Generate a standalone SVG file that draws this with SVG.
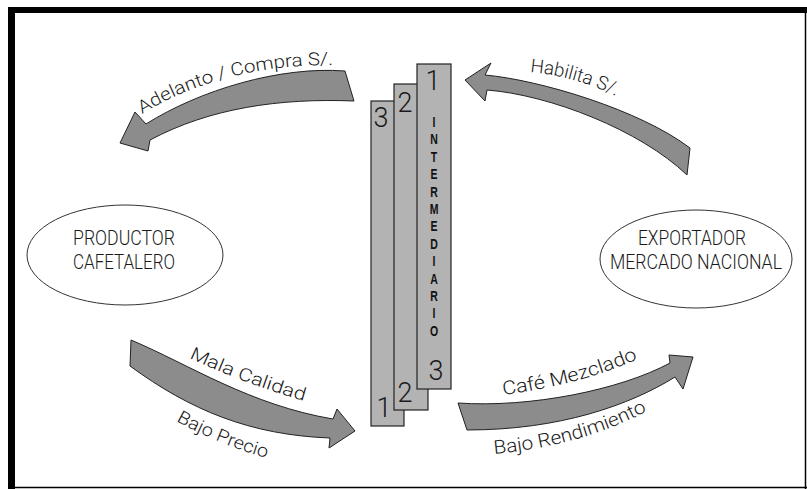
<svg xmlns="http://www.w3.org/2000/svg" width="807" height="489" viewBox="0 0 807 489">
<style>
.lbl{font-family:Roboto,"Liberation Sans",Arial,sans-serif;font-weight:300;fill:#1a1a1a}
.node{fill:#fff;stroke:#333;stroke-width:1}
.col{fill:#b3b3b3;stroke:#222;stroke-width:1.2}
.arrow{fill:#8c8c8c;stroke:#222;stroke-width:1}
.num{font-family:Roboto,"Liberation Sans",sans-serif;font-weight:300;font-size:27px;fill:#1a1a1a;text-anchor:middle}
.vert{font-family:"Liberation Sans",Arial,sans-serif;font-weight:bold;font-size:15px;fill:#111;text-anchor:middle}
</style>
<defs>
<path id="p1" d="M142,114 Q225,63 342,65"/>
<path id="p2" d="M530,72 Q575,76 620,98"/>
<path id="p3" d="M189,358 Q245,384 308,402"/>
<path id="p4" d="M176,421 Q220,445 270,459"/>
<path id="p5" d="M503,395 Q580,385 640,358"/>
<path id="p6" d="M494,454 Q580,446 645,412"/>
</defs>
<rect x="0" y="0" width="807" height="489" fill="#fff"/>
<g id="frame">
<rect x="8" y="7" width="799" height="6" fill="#000"/>
<rect x="8" y="7" width="7" height="482" fill="#000"/>
<line x1="8" y1="487.5" x2="807" y2="487.5" stroke="#000" stroke-width="1.5"/>
<line x1="805.5" y1="7" x2="805.5" y2="489" stroke="#000" stroke-width="1.5"/>
</g>
<g id="node-productor">
<ellipse class="node" cx="125" cy="255" rx="98" ry="50"/>
<text class="lbl" x="124" y="245" font-size="20" text-anchor="middle" textLength="102" lengthAdjust="spacingAndGlyphs">PRODUCTOR</text>
<text class="lbl" x="124" y="269" font-size="20" text-anchor="middle" textLength="102" lengthAdjust="spacingAndGlyphs">CAFETALERO</text>
</g>
<g id="node-exportador">
<ellipse class="node" cx="696" cy="259" rx="96" ry="49"/>
<text class="lbl" x="692" y="245" font-size="20" text-anchor="middle" textLength="108" lengthAdjust="spacingAndGlyphs">EXPORTADOR</text>
<text class="lbl" x="696" y="269" font-size="20" text-anchor="middle" textLength="172" lengthAdjust="spacingAndGlyphs">MERCADO NACIONAL</text>
</g>
<g id="node-intermediario">
<rect class="col" x="371" y="101" width="33" height="325"/>
<rect class="col" x="394" y="84" width="34" height="326"/>
<rect class="col" x="417" y="64" width="34" height="325"/>
<text class="num" x="381" y="127">3</text>
<text class="num" x="405" y="112">2</text>
<text class="num" x="433" y="90">1</text>
<text class="num" x="384" y="417">1</text>
<text class="num" x="405" y="402">2</text>
<text class="num" x="436" y="380">3</text>
<g transform="translate(434,0) scale(0.7,1)">
<text class="vert">
<tspan x="0" y="127">I</tspan><tspan x="0" y="144.4">N</tspan><tspan x="0" y="161.8">T</tspan><tspan x="0" y="179.2">E</tspan><tspan x="0" y="196.6">R</tspan><tspan x="0" y="214">M</tspan><tspan x="0" y="231.4">E</tspan><tspan x="0" y="248.8">D</tspan><tspan x="0" y="266.2">I</tspan><tspan x="0" y="283.6">A</tspan><tspan x="0" y="301">R</tspan><tspan x="0" y="318.4">I</tspan><tspan x="0" y="335.8">O</tspan>
</text>
</g>
</g>
<g id="connectors">
<g id="arrow-adelanto">
<path class="arrow" d="M345,71 C280,66 200,90 146,124 L135,112 L120,143 L148,151 L150,140 C210,108 280,98 354,101 Z"/>
<text class="lbl" font-size="18"><textPath href="#p1" textLength="200" lengthAdjust="spacingAndGlyphs">Adelanto / Compra S/.</textPath></text>
</g>
<g id="arrow-habilita">
<path class="arrow" d="M465,80 L491,63 L485,75 C540,80 640,110 690,148 L687,175 C640,130 550,95 487,90 L485,101 Z"/>
<text class="lbl" font-size="19"><textPath href="#p2" textLength="90" lengthAdjust="spacingAndGlyphs">Habilita S/.</textPath></text>
</g>
<g id="arrow-mala">
<path class="arrow" d="M131,340 C190,365 250,405 333,419 L337,409 L355,431 L329,448 L330,438 C250,435 190,410 130,366 Z"/>
<text class="lbl" font-size="18"><textPath href="#p3" textLength="123" lengthAdjust="spacingAndGlyphs">Mala Calidad</textPath></text>
<text class="lbl" font-size="18"><textPath href="#p4" textLength="98" lengthAdjust="spacingAndGlyphs">Bajo Precio</textPath></text>
</g>
<g id="arrow-cafe">
<path class="arrow" d="M458,403 C530,408 620,390 670,363 L669,355 L693,357 L683,389 L675,377 C630,405 560,430 467,430 Z"/>
<text class="lbl" font-size="19"><textPath href="#p5" textLength="140" lengthAdjust="spacingAndGlyphs">Café Mezclado</textPath></text>
<text class="lbl" font-size="19"><textPath href="#p6" textLength="160" lengthAdjust="spacingAndGlyphs">Bajo Rendimiento</textPath></text>
</g>
</g>
</svg>
